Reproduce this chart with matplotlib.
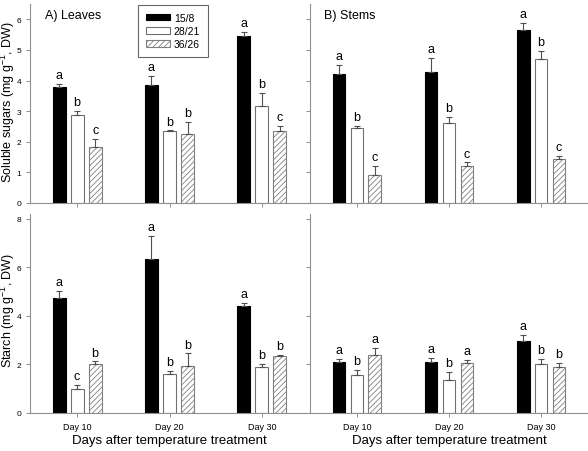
import numpy as np
import matplotlib.pyplot as plt

days = ['Day 10', 'Day 20', 'Day 30']
treatments = ['15/8', '28/21', '36/26']

# soluble sugars, leaves (rows = treatment, cols = day)
sug_leaf = [[3.79, 3.86, 5.45], [2.86, 2.35, 3.16], [1.84, 2.24, 2.35]]
sug_leaf_err = [[0.10, 0.29, 0.13], [0.16, 0.02, 0.43], [0.25, 0.40, 0.18]]
sug_leaf_let = [['a', 'a', 'a'], ['b', 'b', 'b'], ['c', 'b', 'c']]

# soluble sugars, stems
sug_stem = [[4.21, 4.28, 5.65], [2.44, 2.62, 4.70], [0.92, 1.22, 1.43]]
sug_stem_err = [[0.29, 0.46, 0.23], [0.09, 0.18, 0.27], [0.29, 0.11, 0.10]]
sug_stem_let = [['a', 'a', 'a'], ['b', 'b', 'b'], ['c', 'c', 'c']]

# starch, leaves
sta_leaf = [[4.72, 6.35, 4.42], [0.99, 1.62, 1.88], [2.02, 1.95, 2.35]]
sta_leaf_err = [[0.31, 0.95, 0.12], [0.18, 0.10, 0.15], [0.11, 0.51, 0.03]]
sta_leaf_let = [['a', 'a', 'a'], ['c', 'b', 'b'], ['b', 'b', 'b']]

# starch, stems
sta_stem = [[2.10, 2.10, 2.97], [1.57, 1.36, 2.02], [2.41, 2.06, 1.91]]
sta_stem_err = [[0.12, 0.17, 0.25], [0.20, 0.33, 0.22], [0.27, 0.14, 0.17]]
sta_stem_let = [['a', 'a', 'a'], ['b', 'b', 'b'], ['a', 'a', 'b']]

faces = ['black', 'white', 'white']
edges = ['black', '#707070', '#808080']
hatches = [None, None, '//////']

plt.rcParams['font.family'] = ['Liberation Sans', 'DejaVu Sans']
plt.rcParams['mathtext.fontset'] = 'custom'
plt.rcParams['mathtext.rm'] = 'Liberation Sans'
plt.rcParams['mathtext.it'] = 'Liberation Sans:italic'
plt.rcParams['hatch.linewidth'] = 0.6
plt.rcParams['hatch.color'] = '#808080'

fig = plt.figure(figsize=(5.88, 4.52), dpi=100)
W, H = 588.0, 452.0
axes = {
    'tl': fig.add_axes([30/W, 1-204/H, 279/W, 199/H]),
    'tr': fig.add_axes([310/W, 1-204/H, 278/W, 199/H]),
    'bl': fig.add_axes([30/W, 1-414/H, 279/W, 199/H]),
    'br': fig.add_axes([310/W, 1-414/H, 278/W, 199/H]),
}

x = np.arange(1, 4)
bw = 0.14
off = 0.195

def draw(ax, vals, errs, lets, ymax, yticks, showy, showx):
    for i in range(3):
        xs = x + (i - 1) * off
        ax.bar(xs, vals[i], bw, color=faces[i], edgecolor=edges[i],
               hatch=hatches[i], linewidth=0.8, label=treatments[i])
        ax.errorbar(xs, vals[i], yerr=[np.zeros(3), errs[i]], fmt='none',
                    ecolor='#505050', elinewidth=0.8, capsize=2.5, capthick=0.8)
        for j in range(3):
            ax.annotate(lets[i][j], (xs[j], vals[i][j] + errs[i][j]),
                        xytext=(0, 2), textcoords='offset points',
                        ha='center', va='bottom', fontsize=9)
    ax.set_xlim(0.49, 3.51)
    ax.set_ylim(0, ymax)
    ax.set_yticks(yticks)
    ax.set_xticks(x)
    for s in ['top', 'right']:
        ax.spines[s].set_visible(False)
    for s in ['left', 'bottom']:
        ax.spines[s].set_color('#909090')
        ax.spines[s].set_linewidth(0.8)
    ax.tick_params(colors='#909090', labelcolor='black', length=3, width=0.7,
                   labelsize=6)
    if showx:
        ax.set_xticklabels(days, fontsize=6.5)
    else:
        ax.set_xticklabels([])
    if not showy:
        ax.set_yticklabels([])

draw(axes['tl'], sug_leaf, sug_leaf_err, sug_leaf_let, 6.5, range(0, 7), True, False)
draw(axes['tr'], sug_stem, sug_stem_err, sug_stem_let, 6.5, range(0, 7), False, False)
draw(axes['bl'], sta_leaf, sta_leaf_err, sta_leaf_let, 8.2, range(0, 9, 2), True, True)
draw(axes['br'], sta_stem, sta_stem_err, sta_stem_let, 8.2, range(0, 9, 2), False, True)

axes['tl'].text(0.055, 0.93, 'A) Leaves', transform=axes['tl'].transAxes, fontsize=9)
axes['tr'].text(0.05, 0.93, 'B) Stems', transform=axes['tr'].transAxes, fontsize=9)

leg = axes['tl'].legend(loc='upper left', bbox_to_anchor=(0.387, 0.995), fontsize=7.5,
                        fancybox=False, handlelength=2.3, handleheight=0.6,
                        borderpad=0.75, labelspacing=0.3, handletextpad=0.4,
                        borderaxespad=0)
leg.get_frame().set_edgecolor('#404040')
leg.get_frame().set_linewidth(0.8)

fig.text(8/W, 1-102/H, 'Soluble sugars (mg g$^{-1}$, DW)', rotation=90,
         ha='center', va='center', fontsize=9)
fig.text(8/W, 1-310/H, 'Starch (mg g$^{-1}$, DW)', rotation=90,
         ha='center', va='center', fontsize=9)
fig.text(169/W, 1-441/H, 'Days after temperature treatment',
         ha='center', va='center', fontsize=9.5)
fig.text(449/W, 1-441/H, 'Days after temperature treatment',
         ha='center', va='center', fontsize=9.5)

fig.savefig('out.png', dpi=100)
